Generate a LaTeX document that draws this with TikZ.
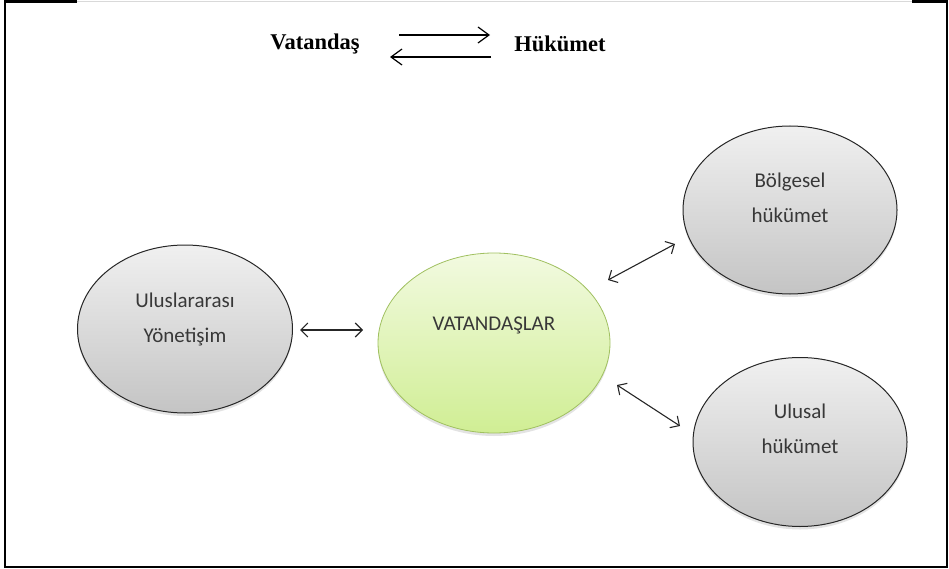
\documentclass[tikz,border=0pt]{standalone}
\usepackage{fontspec}
\setmainfont{Liberation Serif}
\newfontfamily\calib{Carlito}
\usetikzlibrary{shapes.geometric,arrows.meta,shadows}
\definecolor{grtop}{RGB}{242,250,224}
\definecolor{grbot}{RGB}{208,238,148}
\definecolor{grline}{RGB}{160,192,96}
\definecolor{gytop}{RGB}{240,240,240}
\definecolor{gybot}{RGB}{196,196,196}
\tikzset{
  bubble/.style={ellipse, inner sep=0pt,
    drop shadow={opacity=0.22, shadow xshift=0pt, shadow yshift=-3pt}},
  graybub/.style={bubble, draw=black!85, line width=1pt,
    top color=gytop, bottom color=gybot},
  greenbub/.style={bubble, draw=grline, line width=0.8pt,
    top color=grtop, bottom color=grbot},
  bubtext/.style={align=center, text=black!78,
    font=\calib\fontsize{21}{35}\selectfont},
  toptext/.style={font=\bfseries\fontsize{22.5}{26}\selectfont},
  dbl/.style={{Straight Barb[length=7pt,width=14pt]}-{Straight Barb[length=7pt,width=14pt]}, line width=1.1pt, black!85},
  sgl/.style={-{Straight Barb[length=11pt,width=16pt]}, line width=1.2pt}
}
\begin{document}
\begin{tikzpicture}[x=1pt,y=-1pt]
\useasboundingbox (0,0) rectangle (949,569);
% frame
\draw[line width=0.4pt, black!15] (76,1.2) -- (912,1.2);
\draw[line width=2.2pt] (77,1.6) -- (5,1.6) -- (5,567) -- (947,567) -- (947,1.6) -- (912,1.6);
% top relation
\node[toptext] (vt) at (315,44) {Vatandaş};
\node[toptext] (hk) at (560,44) {Hükümet};
\coordinate (t1s) at (399,35);
\coordinate (t1e) at (490,35);
\coordinate (t2s) at (491,57);
\coordinate (t2e) at (390,57);
\draw[sgl] (t1s) -- (t1e);
\draw[sgl] (t2s) -- (t2e);
% bubbles
\node[graybub, minimum width=215pt, minimum height=168pt] (ul) at (185,329) {};
\node[greenbub, minimum width=232pt, minimum height=180pt] (vat) at (494,343) {};
\node[graybub, minimum width=214pt, minimum height=168pt] (bol) at (790,210) {};
\node[graybub, minimum width=214pt, minimum height=169pt] (ulu) at (800,442) {};
\node[bubtext] (ult) at (185,319) {Uluslararası\\Yönetişim};
\node[bubtext] (vatt) at (494,325) {VATANDAŞLAR};
\node[bubtext] (bolt) at (790,198) {Bölgesel\\hükümet};
\node[bubtext] (ulut) at (800,429) {Ulusal\\hükümet};
% connectors
\coordinate (a1s) at (300,330);
\coordinate (a1e) at (363,330);
\coordinate (a2s) at (608,280);
\coordinate (a2e) at (675,244);
\coordinate (a3s) at (617,385);
\coordinate (a3e) at (680,426);
\draw[dbl] (a1s) -- (a1e);
\draw[dbl] (a2s) -- (a2e);
\draw[dbl] (a3s) -- (a3e);
\end{tikzpicture}
\end{document}
